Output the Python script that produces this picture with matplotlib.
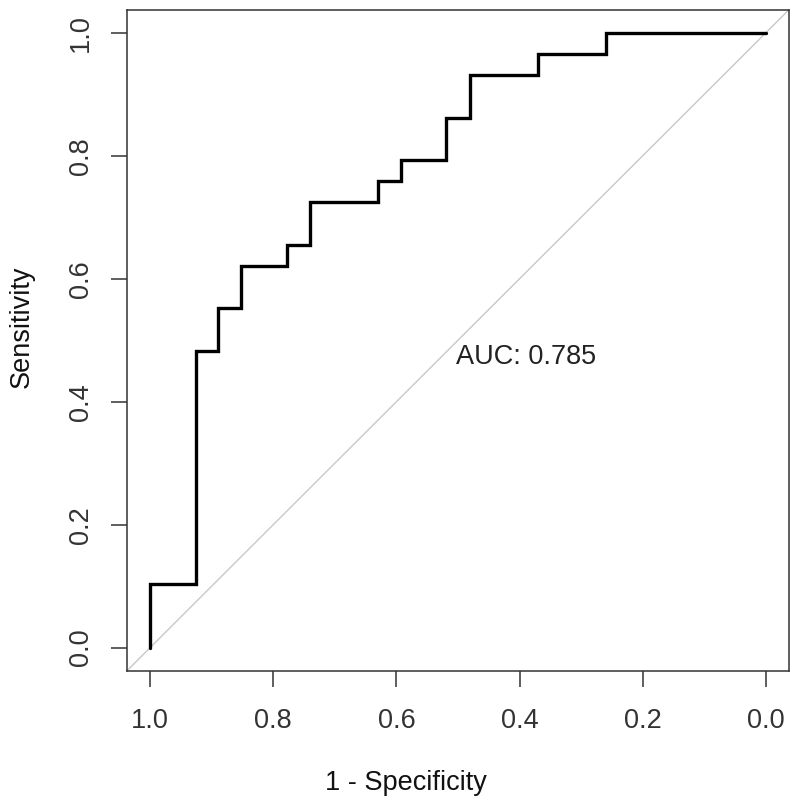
import numpy as np
from matplotlib import pyplot as plt

plt.rcParams['font.family'] = ['Liberation Sans', 'DejaVu Sans']

# ROC corner points (specificity on the reversed x axis, sensitivity on y)
specificity = [1.0, 0.926, 0.889, 0.852, 0.778, 0.741, 0.630, 0.593, 0.519, 0.481, 0.370, 0.259, 0.0]
sensitivity = [0.0, 0.103, 0.483, 0.552, 0.621, 0.655, 0.724, 0.759, 0.793, 0.862, 0.931, 0.966, 1.0]
auc_text = "AUC: 0.785"
ticks = [1.0, 0.8, 0.6, 0.4, 0.2, 0.0]
tick_labels = ["1.0", "0.8", "0.6", "0.4", "0.2", "0.0"]

frame = "#333333"
fs = 19.5

fig = plt.figure(figsize=(8, 8.07), dpi=100)
ax = fig.add_axes([0.1584, 0.1685, 0.8282, 0.8191])

ax.axline((1, 0), (0, 1), color="#c8c8c8", lw=1.0, zorder=1)
ax.plot(specificity, sensitivity, drawstyle="steps-pre", color="black", lw=2.4,
        solid_capstyle="round", solid_joinstyle="miter", zorder=2)

ax.set_xlim(1.038, -0.038)
ax.set_ylim(-0.038, 1.037)

ax.set_xticks(ticks)
ax.set_xticklabels(tick_labels)
ax.set_yticks(ticks)
ax.set_yticklabels(tick_labels)

for s in ax.spines.values():
    s.set_color(frame)
    s.set_linewidth(1.1)

ax.tick_params(axis="both", length=11.5, width=1.1, color=frame,
               labelsize=fs, labelcolor=frame)
ax.tick_params(axis="x", pad=15)
ax.tick_params(axis="y", pad=12, labelrotation=90)
for lab in ax.get_yticklabels():
    lab.set_va("center")

ax.text(0.504, 0.462, auc_text, fontsize=fs, color="#222222",
        ha="left", va="baseline", zorder=3)

fig.text(0.5075, 1 - 790 / 807, "1 - Specificity", fontsize=fs,
         color="#111111", ha="center", va="baseline")
fig.text(22 / 800, 1 - 327 / 807, "Sensitivity", fontsize=fs,
         color="#111111", ha="center", va="center", rotation=90)

plt.savefig("out.png", dpi=100)
plt.close()
